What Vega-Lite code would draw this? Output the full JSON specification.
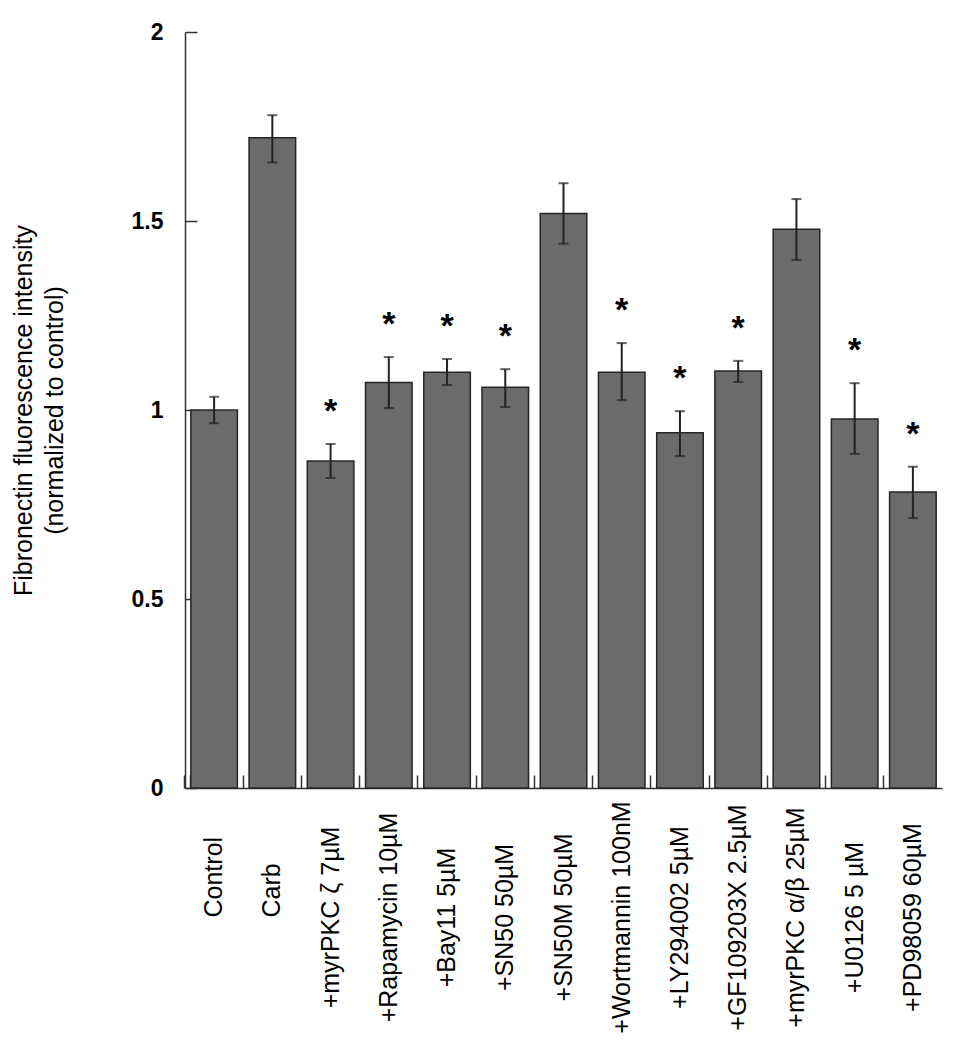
{
  "$schema": "https://vega.github.io/schema/vega-lite/v6.json",
  "autosize": {"type": "none"},
  "width": 757,
  "height": 756,
  "padding": {"left": 185, "top": 32, "right": 15, "bottom": 262},
  "background": "white",
  "config": {
    "font": "Liberation Sans",
    "view": {"stroke": null}
  },
  "data": {
    "values": [
      {"treatment": "Control", "value": 1.0, "lo": 0.965, "hi": 1.035, "sig": ""},
      {"treatment": "Carb", "value": 1.72, "lo": 1.655, "hi": 1.78, "sig": ""},
      {"treatment": "+myrPKC ζ 7µM", "value": 0.865, "lo": 0.82, "hi": 0.91, "sig": "*"},
      {"treatment": "+Rapamycin 10µM", "value": 1.073, "lo": 1.005, "hi": 1.14, "sig": "*"},
      {"treatment": "+Bay11 5µM", "value": 1.1, "lo": 1.066, "hi": 1.135, "sig": "*"},
      {"treatment": "+SN50 50µM", "value": 1.06, "lo": 1.008, "hi": 1.108, "sig": "*"},
      {"treatment": "+SN50M 50µM", "value": 1.52, "lo": 1.44, "hi": 1.6, "sig": ""},
      {"treatment": "+Wortmannin 100nM", "value": 1.1, "lo": 1.026, "hi": 1.177, "sig": "*"},
      {"treatment": "+LY294002 5µM", "value": 0.94, "lo": 0.878, "hi": 0.997, "sig": "*"},
      {"treatment": "+GF109203X 2.5µM", "value": 1.103, "lo": 1.074, "hi": 1.13, "sig": "*"},
      {"treatment": "+myrPKC α/β 25µM", "value": 1.478, "lo": 1.397, "hi": 1.558, "sig": ""},
      {"treatment": "+U0126 5 µM", "value": 0.976, "lo": 0.884, "hi": 1.071, "sig": "*"},
      {"treatment": "+PD98059 60µM", "value": 0.783, "lo": 0.714, "hi": 0.85, "sig": "*"}
    ]
  },
  "encoding": {
    "x": {
      "field": "treatment",
      "type": "nominal",
      "sort": null,
      "scale": {"paddingInner": 0.2, "paddingOuter": 0.1},
      "axis": {
        "title": null,
        "domainColor": "#333333",
        "domainWidth": 1.5,
        "tickColor": "#333333",
        "tickWidth": 1.5,
        "tickSize": -13,
        "bandPosition": -0.125,
        "tickExtra": true,
        "labelAngle": 270,
        "labelAlign": {"condition": {"test": "datum.value === 'Control' || datum.value === 'Carb'", "value": "left"}, "value": "center"},
        "labelBaseline": "middle",
        "labelPadding": 142,
        "labelFontSize": 25,
        "labelColor": "#000000",
        "labelLimit": 0
      }
    }
  },
  "layer": [
    {
      "mark": {"type": "bar", "fill": "#6b6b6b", "stroke": "#262626", "strokeWidth": 1.5},
      "encoding": {
        "y": {
          "field": "value",
          "type": "quantitative",
          "scale": {"domain": [0, 2], "nice": false},
          "axis": {
            "values": [0, 0.5, 1, 1.5, 2],
            "format": "~g",
            "grid": false,
            "domainColor": "#333333",
            "domainWidth": 1.5,
            "tickColor": "#333333",
            "tickWidth": 1.5,
            "tickSize": -12,
            "labelPadding": 34,
            "labelFontSize": 23,
            "labelFontWeight": "bold",
            "labelColor": "#000000",
            "title": ["Fibronectin fluorescence intensity", "(normalized to control)"],
            "titleFontSize": 25,
            "titleFontWeight": "normal",
            "titleColor": "#000000",
            "titleAngle": 270,
            "titleAlign": "center",
            "titleBaseline": "top",
            "titleX": -174,
            "titleY": 378,
            "titleLineHeight": 31
          }
        }
      }
    },
    {
      "mark": {"type": "rule", "color": "#222222", "strokeWidth": 2},
      "encoding": {
        "y": {"field": "lo", "type": "quantitative"},
        "y2": {"field": "hi"}
      }
    },
    {
      "mark": {"type": "tick", "color": "#222222", "thickness": 2, "size": 10, "orient": "horizontal"},
      "encoding": {
        "y": {"field": "lo", "type": "quantitative"}
      }
    },
    {
      "mark": {"type": "tick", "color": "#222222", "thickness": 2, "size": 10, "orient": "horizontal"},
      "encoding": {
        "y": {"field": "hi", "type": "quantitative"}
      }
    },
    {
      "mark": {"type": "text", "fontSize": 34, "fontWeight": "bold", "color": "#000000", "baseline": "alphabetic", "align": "center", "dy": -22},
      "encoding": {
        "y": {"field": "hi", "type": "quantitative"},
        "text": {"field": "sig"}
      }
    }
  ]
}
